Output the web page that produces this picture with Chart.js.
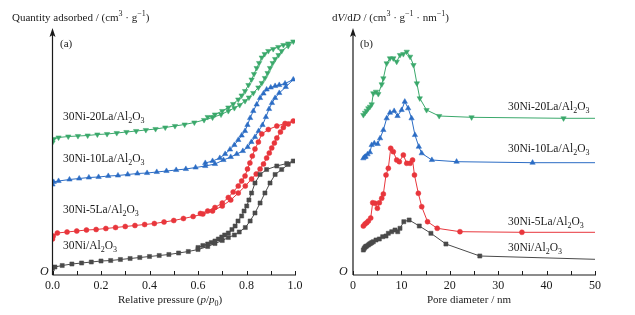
<!DOCTYPE html>
<html>
<head>
<meta charset="utf-8">
<script src="https://cdn.jsdelivr.net/npm/chart.js@4/dist/chart.umd.min.js"></script>
<style>
  body { margin: 0; background: #fff; }
  #wrap { position: relative; width: 635px; height: 315px; }
  canvas { position: absolute; top: 0; }
</style>
</head>
<body>
<div id="wrap">
  <canvas id="chartA" width="320" height="315" style="left:0"></canvas>
  <canvas id="chartB" width="315" height="315" style="left:320px"></canvas>
</div>
<script>
// (a) N2 isotherms, arbitrary offset units. Adsorption 0 -> 1, then desorption back down.
const niP = [0, 0.01, 0.04, 0.08, 0.12, 0.16, 0.2, 0.24, 0.28, 0.32, 0.36, 0.4, 0.44, 0.48, 0.52, 0.56, 0.6, 0.64, 0.67, 0.7, 0.725, 0.75, 0.77, 0.795, 0.815, 0.835, 0.856, 0.876, 0.897, 0.918, 0.945, 0.972, 0.993,
  0.966, 0.925, 0.883, 0.856, 0.835, 0.821, 0.81, 0.801, 0.79, 0.78, 0.765, 0.753, 0.74, 0.725, 0.71, 0.698, 0.684, 0.67, 0.655, 0.64, 0.62, 0.6];
const niQ = [6.5, 8, 9.5, 11, 12, 13, 14, 14.5, 15.5, 16.5, 17.5, 18.5, 19.5, 20.5, 22, 23.5, 25.5, 28.5, 31.5, 34.5, 37.5, 40, 43, 47.5, 54, 62, 72, 82, 92, 100.5, 105.5, 110.5, 114,
  111.5, 109, 105.5, 100.5, 92, 82, 75, 69, 64, 59, 54, 49, 45.5, 42, 40, 38, 36, 34, 32.5, 31, 29.5, 27.5];

const la5P = [0, 0.003, 0.02, 0.06, 0.1, 0.14, 0.18, 0.22, 0.26, 0.3, 0.34, 0.38, 0.42, 0.46, 0.5, 0.54, 0.58, 0.62, 0.66, 0.7, 0.735, 0.766, 0.795, 0.821, 0.84, 0.856, 0.87, 0.883, 0.894, 0.904, 0.915, 0.925, 0.94, 0.952, 0.972, 0.993,
  0.959, 0.925, 0.89, 0.863, 0.849, 0.835, 0.824, 0.814, 0.804, 0.794, 0.78, 0.766, 0.745, 0.725, 0.7, 0.67, 0.64, 0.61];
const la5Q = [36, 39, 42, 43, 44, 45, 45.5, 46.5, 47.5, 48.5, 49.5, 50.5, 51.5, 53, 54.5, 56.5, 58.5, 61, 64, 69, 75, 82, 89, 96, 101, 106, 111, 117, 122, 127, 132, 137, 143, 147.5, 151, 154,
  151.5, 149, 145.5, 141, 133, 126, 119, 112, 106, 99, 94, 89, 83, 77.5, 72, 67.5, 64, 61.5];

const la10P = [0, 0.005, 0.025, 0.07, 0.11, 0.15, 0.19, 0.23, 0.27, 0.31, 0.35, 0.39, 0.43, 0.47, 0.51, 0.55, 0.59, 0.63, 0.67, 0.705, 0.735, 0.76, 0.785, 0.805, 0.82, 0.835, 0.85, 0.866, 0.88, 0.893, 0.905, 0.918, 0.935, 0.962, 0.993,
  0.959, 0.935, 0.918, 0.9, 0.883, 0.87, 0.856, 0.842, 0.828, 0.815, 0.804, 0.794, 0.78, 0.766, 0.75, 0.732, 0.712, 0.69, 0.66, 0.63];
const la10Q = [90.5, 93, 94, 95.5, 96.5, 97.5, 98, 99, 99.5, 100.5, 101.5, 102, 103, 104, 105, 106, 107.5, 109, 111, 115, 118, 121, 124, 128, 133, 138, 144, 150, 158, 166, 172, 177, 182, 188, 195.5,
  191.5, 190, 189, 187.5, 185.5, 181.5, 177, 170.5, 164, 157, 150, 144, 139.5, 135, 130, 125.5, 121, 117, 114, 112];

const la20P = [0, 0.005, 0.025, 0.065, 0.105, 0.145, 0.185, 0.225, 0.265, 0.305, 0.345, 0.385, 0.425, 0.465, 0.505, 0.545, 0.585, 0.625, 0.66, 0.695, 0.725, 0.75, 0.772, 0.794, 0.81, 0.828, 0.849, 0.863, 0.876, 0.887, 0.897, 0.908, 0.918, 0.932, 0.945, 0.972, 0.993,
  0.972, 0.952, 0.931, 0.91, 0.89, 0.875, 0.863, 0.852, 0.842, 0.831, 0.821, 0.808, 0.794, 0.78, 0.766, 0.745, 0.725, 0.7, 0.67, 0.64];
const la20Q = [132.5, 136, 137.5, 138.5, 139, 139.5, 140.5, 141, 142, 143, 144, 145, 146, 147.5, 149, 150.5, 152.5, 155, 157.5, 160.5, 164, 167, 170, 174, 177.5, 182, 187.5, 192, 197, 202, 207, 212, 216, 220, 224, 229, 233.5,
  231.5, 230, 228, 226, 224, 221, 217.5, 212, 207, 201, 195.5, 190, 184, 179.5, 175.5, 171, 167.5, 164, 160.5, 158];

// (b) pore size distributions, arbitrary offset units
const niD = [2.14, 2.3, 2.48, 2.65, 2.83, 3.17, 3.4, 3.66, 3.9, 4.2, 4.75, 5.44, 6.13, 6.82, 7.3, 8.0, 8.68, 9.24, 9.71, 10.5, 11.6, 13.7, 16.1, 19.2, 26.2, 50];
const niV = [25, 26.5, 27.7, 28.5, 29, 30, 31, 31.7, 32.5, 33.3, 35, 36, 38.3, 39, 41.7, 43.3, 45, 43.3, 46.7, 53.3, 55, 49, 41.7, 31, 19, 15.7];

const la5D = [2.14, 2.48, 2.83, 3.17, 3.66, 4.07, 4.55, 5.03, 5.44, 5.93, 6.27, 6.82, 7.3, 7.79, 8.33, 9.03, 9.57, 10.4, 11.1, 11.8, 12.3, 12.7, 13.5, 14.2, 15.4, 17.4, 22.1, 34.9, 50];
const la5V = [49, 51, 52.3, 54, 57, 72.3, 71.7, 66.7, 72.3, 76.7, 81, 100, 106.7, 126.7, 123.3, 115, 113.3, 120, 111.7, 111.7, 115, 100, 81.7, 68.3, 53.3, 46.7, 43.3, 42.7, 42.7];

const la10D = [2.14, 2.4, 2.6, 3.0, 3.5, 3.86, 4.4, 5.1, 5.6, 6.27, 6.96, 7.64, 8.5, 9.2, 10.05, 10.7, 11.4, 12.1, 12.8, 13.6, 14.2, 16.3, 21.4, 37.1, 50];
const la10V = [116.7, 118, 118.3, 120.7, 122.7, 130, 131.7, 131, 136.7, 145, 156.7, 162.3, 164, 159, 165, 173.3, 166.7, 156.7, 140, 128.3, 121.7, 115, 113.3, 112.3, 112.3];

const la20D = [2.14, 2.48, 2.83, 3.17, 3.51, 3.86, 4.2, 4.75, 5.23, 5.93, 6.27, 6.96, 7.64, 8.33, 9.03, 9.71, 10.4, 11.1, 11.8, 12.5, 13.2, 13.8, 15.2, 17.8, 24.5, 43.5, 50];
const la20V = [160, 162.3, 164.3, 166.7, 168.3, 170.7, 181.7, 183.3, 181, 190.7, 196.7, 211.7, 216.7, 216.7, 213.3, 220, 221, 223.3, 218.3, 210, 191.7, 176.7, 165, 159, 157.7, 156.7, 156.7];

const xTicksA = [0, 0.1, 0.2, 0.3, 0.4, 0.5, 0.6, 0.7, 0.8, 0.9, 1.0];
const xTicksB = [0, 5, 10, 15, 20, 25, 30, 35, 40, 45, 50];

const SERIF = '"Liberation Serif", "DejaVu Serif", serif';
const INK = '#1a1a1a';
const colors = { ni: '#4a4a4a', la5: '#e8363c', la10: '#2b6cc4', la20: '#3aa86b' };

function zip(xs, ys) {
  return xs.map((v, i) => ({x: v, y: ys[i]}));
}

// draw mixed text: runs of [text, kind], kind n=normal i=italic b=subscript p=superscript
function drawRuns(ctx, x, y, runs, size) {
  const fontFor = (k) => {
    if (k === 'i') return 'italic ' + size + 'px ' + SERIF;
    if (k === 'b' || k === 'p') return Math.round(size * 0.7) + 'px ' + SERIF;
    return size + 'px ' + SERIF;
  };
  ctx.textBaseline = 'middle';
  ctx.textAlign = 'left';
  let cx = x;
  runs.forEach(([t, k]) => {
    ctx.font = fontFor(k);
    let dy = 0;
    if (k === 'b') dy = size * 0.32;
    if (k === 'p') dy = -size * 0.35;
    ctx.fillText(t, cx, y + dy);
    cx += ctx.measureText(t).width;
  });
}

const alo = (name) => [[name + '/Al', 'n'], ['2', 'b'], ['O', 'n'], ['3', 'b']];

const axisDeco = {
  id: 'axisDeco',
  afterDraw(chart, args, opts) {
    const { ctx, chartArea: a, scales: { x } } = chart;
    ctx.save();
    ctx.strokeStyle = INK;
    ctx.fillStyle = INK;
    ctx.lineWidth = 1.2;
    ctx.beginPath();
    ctx.moveTo(a.left, a.bottom);
    ctx.lineTo(a.right + 1, a.bottom);
    ctx.moveTo(a.left, a.bottom);
    ctx.lineTo(a.left, a.top + 3);
    ctx.stroke();
    // arrow head
    ctx.beginPath();
    ctx.moveTo(a.left, a.top - 2);
    ctx.lineTo(a.left - 3, a.top + 7);
    ctx.lineTo(a.left, a.top + 5);
    ctx.lineTo(a.left + 3, a.top + 7);
    ctx.closePath();
    ctx.fill();
    // inward ticks
    ctx.lineWidth = 1;
    opts.ticks.forEach(v => {
      const px = Math.round(x.getPixelForValue(v)) + 0.5;
      ctx.beginPath();
      ctx.moveTo(px, a.bottom);
      ctx.lineTo(px, a.bottom - 4);
      ctx.stroke();
    });
    opts.texts.forEach(t => drawRuns(ctx, t.x, t.y, t.runs, t.size));
    ctx.restore();
  }
};

function series(label, pts, color, style, rot, r, lastBare) {
  return {
    label: label,
    data: pts,
    borderColor: color,
    backgroundColor: color,
    borderWidth: 1,
    pointStyle: style,
    rotation: rot,
    pointBorderWidth: 0.5,
    pointRadius: (c) => (lastBare && c.dataIndex === c.dataset.data.length - 1) ? 0 : r,
    tension: 0,
    fill: false
  };
}

function makeChart(id, datasets, xOpts, pad, ymax, deco) {
  return new Chart(document.getElementById(id), {
    type: 'line',
    data: { datasets: datasets },
    options: {
      responsive: false,
      animation: false,
      parsing: true,
      layout: { padding: pad },
      plugins: { legend: { display: false }, tooltip: { enabled: false }, axisDeco: deco },
      scales: {
        x: Object.assign({
          type: 'linear',
          grid: { display: false, drawTicks: false },
          border: { display: false },
          afterFit: (s) => { s.height = 40; }
        }, xOpts),
        y: { type: 'linear', display: false, min: 0, max: ymax }
      }
    },
    plugins: [axisDeco]
  });
}

// chart (a)
makeChart('chartA', [
  series('30Ni/Al2O3', zip(niP, niQ), colors.ni, 'rect', 0, 2.9, false),
  series('30Ni-5La/Al2O3', zip(la5P, la5Q), colors.la5, 'circle', 0, 2.5, false),
  series('30Ni-10La/Al2O3', zip(la10P, la10Q), colors.la10, 'triangle', 0, 3.1, false),
  series('30Ni-20La/Al2O3', zip(la20P, la20Q), colors.la20, 'triangle', 180, 3.1, false)
], {
  min: 0, max: 1,
  ticks: { stepSize: 0.2, padding: 4, color: INK, font: { family: SERIF, size: 12 }, callback: (v) => v.toFixed(1) }
}, { left: 52.5, right: 25, top: 30, bottom: 0 }, 245, {
  ticks: xTicksA,
  texts: [
    { x: 12, y: 18, size: 11, runs: [['Quantity adsorbed / (cm', 'n'], ['3', 'p'], [' \u00b7 g', 'n'], ['\u22121', 'p'], [')', 'n']] },
    { x: 118, y: 300, size: 11, runs: [['Relative pressure (', 'n'], ['p', 'i'], ['/', 'n'], ['p', 'i'], ['0', 'b'], [')', 'n']] },
    { x: 60, y: 44, size: 11, runs: [['(a)', 'n']] },
    { x: 40, y: 272, size: 12, runs: [['O', 'i']] },
    { x: 63, y: 117, size: 11.5, runs: alo('30Ni-20La') },
    { x: 63, y: 159, size: 11.5, runs: alo('30Ni-10La') },
    { x: 63, y: 210, size: 11.5, runs: alo('30Ni-5La') },
    { x: 63, y: 246, size: 11.5, runs: alo('30Ni') }
  ]
});

// chart (b)
makeChart('chartB', [
  series('30Ni/Al2O3', zip(niD, niV), colors.ni, 'rect', 0, 2.9, true),
  series('30Ni-5La/Al2O3', zip(la5D, la5V), colors.la5, 'circle', 0, 2.5, true),
  series('30Ni-10La/Al2O3', zip(la10D, la10V), colors.la10, 'triangle', 0, 3.1, true),
  series('30Ni-20La/Al2O3', zip(la20D, la20V), colors.la20, 'triangle', 180, 3.1, true)
], {
  min: 0, max: 50,
  ticks: { stepSize: 10, padding: 4, color: INK, font: { family: SERIF, size: 12 } }
}, { left: 33, right: 40, top: 30, bottom: 0 }, 245, {
  ticks: xTicksB,
  texts: [
    { x: 12, y: 18, size: 11, runs: [['d', 'n'], ['V', 'i'], ['/d', 'n'], ['D', 'i'], [' / (cm', 'n'], ['3', 'p'], [' \u00b7 g', 'n'], ['\u22121', 'p'], [' \u00b7 nm', 'n'], ['\u22121', 'p'], [')', 'n']] },
    { x: 107, y: 300, size: 11, runs: [['Pore diameter / nm', 'n']] },
    { x: 40, y: 44, size: 11, runs: [['(b)', 'n']] },
    { x: 19, y: 272, size: 12, runs: [['O', 'i']] },
    { x: 188, y: 107, size: 11.5, runs: alo('30Ni-20La') },
    { x: 188, y: 149, size: 11.5, runs: alo('30Ni-10La') },
    { x: 188, y: 222, size: 11.5, runs: alo('30Ni-5La') },
    { x: 188, y: 248, size: 11.5, runs: alo('30Ni') }
  ]
});
</script>
</body>
</html>
